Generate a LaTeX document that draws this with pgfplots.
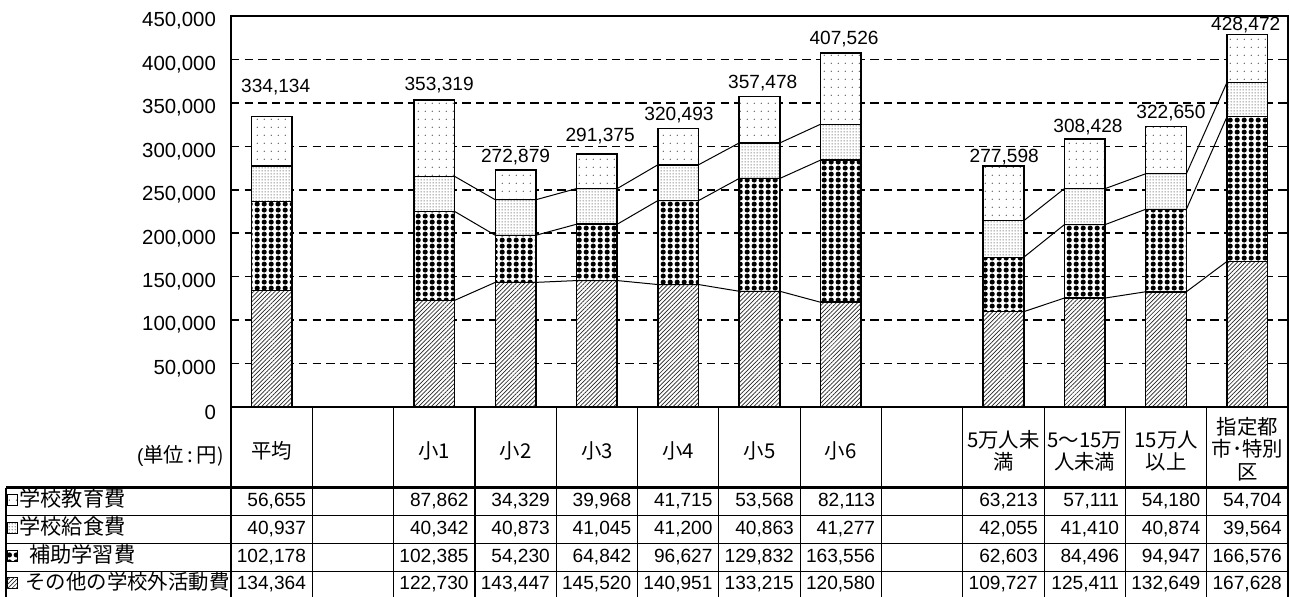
\documentclass[border=0pt]{standalone}
\usepackage{fontspec}
\setmainfont{Liberation Sans}
\newfontfamily\cjk{Noto Sans CJK JP}
\usepackage{pgfplots}
\usepackage{pgfplotstable}
\pgfplotsset{compat=1.18}
\usetikzlibrary{patterns,patterns.meta}

\tikzdeclarepattern{name=sparsedots, type=uncolored, bottom left={(0pt,0pt)}, top right={(3.35pt,3.85pt)}, tile size={(3.35pt,3.85pt)}, code={\fill (1.675pt,1.925pt) circle (0.33pt);}}
\tikzdeclarepattern{name=finedots, type=uncolored, bottom left={(0pt,0pt)}, top right={(1.3pt,1.3pt)}, tile size={(1.3pt,1.3pt)}, code={\fill (0.65pt,0.65pt) circle (0.3pt);}}
\tikzdeclarepattern{name=bigdots, type=uncolored, bottom left={(0pt,0pt)}, top right={(3.35pt,3.2pt)}, tile size={(3.35pt,3.2pt)}, code={\fill (1.675pt,1.6pt) circle (1.35pt);}}

\tikzset{
  pA/.style={fill=white, postaction={pattern color=black!75, pattern=sparsedots}},
  pB/.style={fill=white, postaction={pattern color=black!70, pattern=finedots}},
  pC/.style={fill=white, postaction={pattern color=black, pattern=bigdots}},
  pD/.style={fill=white, postaction={pattern color=black!85, pattern={Lines[angle=45,distance=1.5pt,line width=0.35pt]}}},
}

\newcommand\numfont{\fontsize{9.55pt}{11pt}\selectfont}
\newcommand\cjkfont{\cjk\fontsize{10.2pt}{12pt}\selectfont}
\newcommand\cjkrowfont{\cjk\fontsize{10.6pt}{12pt}\selectfont}

\pgfplotstableread{
k edu lunch supp other
0 56655 40937 102178 134364
2 87862 40342 102385 122730
3 34329 40873 54230 143447
4 39968 41045 64842 145520
5 41715 41200 96627 140951
6 53568 40863 129832 133215
7 82113 41277 163556 120580
9 63213 42055 62603 109727
10 57111 41410 84496 125411
11 54180 40874 94947 132649
12 54704 39564 166576 167628
}\data

\pgfkeys{/pgf/number format/.cd, fixed, precision=0, 1000 sep={,}, assume math mode=true}

\begin{document}
\begin{tikzpicture}
\useasboundingbox (0,0) rectangle (645pt,-298pt);
\begin{axis}[
  at={(115.5pt,-203.5pt)}, anchor=south west,
  scale only axis, width=528.5pt, height=195.5pt,
  xmin=0, xmax=13, ymin=0, ymax=450000,
  enlargelimits=false,
  ybar stacked, bar width=0.5,
  xtick=\empty,
  ytick={0,50000,100000,150000,200000,250000,300000,350000,400000,450000},
  scaled y ticks=false,
  yticklabel style={/pgf/number format/fixed, /pgf/number format/precision=0,
    /pgf/number format/1000 sep={,}, /pgf/number format/assume math mode=true,
    font=\fontsize{10.2pt}{12pt}\selectfont, xshift=-4pt, yshift=-2.5pt},
  ymajorgrids,
  major grid style={black, line width=0.8pt, dash pattern=on 4.2pt off 2.6pt},
  axis line style={line width=0.8pt},
  major tick length=0pt,
  every axis plot/.append style={draw=black, line width=0.75pt},
]
\addplot[pD] table[x expr=\thisrow{k}+0.5, y=other]{\data};
\addplot[pC] table[x expr=\thisrow{k}+0.5, y=supp]{\data};
\addplot[pB] table[x expr=\thisrow{k}+0.5, y=lunch]{\data};
\addplot[pA] table[x expr=\thisrow{k}+0.5, y=edu]{\data};
\foreach \xx/\yy/\tt in {0.55/368286/334{,}134, 2.56/370588/353{,}319, 3.5/287724/272{,}879,
  4.54/311893/291{,}375, 5.51/336061/320{,}493, 6.54/372890/357{,}478, 7.54/423529/407{,}526,
  9.51/287724/277{,}598, 10.54/322251/308{,}428, 11.56/338363/322{,}650, 12.48/439642/428{,}472}{
  \edef\temp{\noexpand\node[font=\noexpand\numfont] at (axis cs:\xx,\yy) {\tt};}\temp
}
\end{axis}

\begin{axis}[
  at={(115.5pt,-203.5pt)}, anchor=south west,
  scale only axis, width=528.5pt, height=195.5pt,
  xmin=0, xmax=13, ymin=0, ymax=450000,
  hide axis,
]
\addplot[black, line width=0.5pt, mark=none] coordinates {(2.75,122730)(3.25,143447)(3.75,143447)(4.25,145520)(4.75,145520)(5.25,140951)(5.75,140951)(6.25,133215)(6.75,133215)(7.25,120580)};
\addplot[black, line width=0.5pt, mark=none] coordinates {(2.75,225115)(3.25,197677)(3.75,197677)(4.25,210362)(4.75,210362)(5.25,237578)(5.75,237578)(6.25,263047)(6.75,263047)(7.25,284136)};
\addplot[black, line width=0.5pt, mark=none] coordinates {(2.75,265457)(3.25,238550)(3.75,238550)(4.25,251407)(4.75,251407)(5.25,278778)(5.75,278778)(6.25,303910)(6.75,303910)(7.25,325413)};
\addplot[black, line width=0.5pt, mark=none] coordinates {(9.75,109727)(10.25,125411)(10.75,125411)(11.25,132649)(11.75,132649)(12.25,167628)};
\addplot[black, line width=0.5pt, mark=none] coordinates {(9.75,172330)(10.25,209907)(10.75,209907)(11.25,227596)(11.75,227596)(12.25,334204)};
\addplot[black, line width=0.5pt, mark=none] coordinates {(9.75,214385)(10.25,251317)(10.75,251317)(11.25,268470)(11.75,268470)(12.25,373768)};
\end{axis}

\begin{scope}[x=0.5pt, y=-0.5pt]
\foreach \c in {0,...,13} {
  \draw[line width=0.6pt] ({231+\c*81.31},407) -- ({231+\c*81.31},600);
}
\draw[line width=0.6pt] (6,487.5) -- (6,600);
\draw[line width=1.5pt] (6,487.5) -- (1288,487.5);
\foreach \y in {515.5,543.5,571.5} \draw[line width=0.6pt] (6,\y) -- (1288,\y);
% header
\node[anchor=base east, inner sep=0pt] at (224,462) {\numfont(\cjkfont 単位\,:\,円\numfont)};
\foreach \c/\t in {0/平均, 2/小1, 3/小2, 4/小3, 5/小4, 6/小5, 7/小6} {
  \node[anchor=base, font=\cjkfont, inner sep=0pt] at ({231+(\c+0.5)*81.31},458.5) {\t};
}
\foreach \c/\ta/\tb in {9/5万人未/満, 10/5～15万/人未満, 11/15万人/以上} {
  \node[anchor=base, font=\cjkfont, inner sep=0pt] at ({231+(\c+0.5)*81.31},447) {\ta};
  \node[anchor=base, font=\cjkfont, inner sep=0pt] at ({231+(\c+0.5)*81.31},469.5) {\tb};
}
\node[anchor=base, font=\cjkfont, inner sep=0pt] at ({231+12.5*81.31},434) {指定都};
\node[anchor=base, font=\cjkfont, inner sep=0pt] at ({231+12.5*81.31},456.5) {市･特別};
\node[anchor=base, font=\cjkfont, inner sep=0pt] at ({231+12.5*81.31},479.5) {区};
% row labels with keys
\draw[line width=0.5pt, pA] (7,494.5) rectangle (17,505.5);
\node[anchor=base west, font=\cjkrowfont, inner sep=0pt] at (19,506.5) {学校教育費};
\draw[line width=0.5pt, pB] (7,522) rectangle (17,533);
\node[anchor=base west, font=\cjkrowfont, inner sep=0pt] at (19,534) {学校給食費};
\draw[line width=0.5pt, pC] (7,550) rectangle (17,561);
\node[anchor=base west, font=\cjkrowfont, inner sep=0pt] at (29,562) {補助学習費};
\draw[line width=0.5pt, pD] (7,577.5) rectangle (17,588.5);
\node[anchor=base west, font=\cjkfont, inner sep=0pt] at (25,589.5) {その他の学校外活動費};
% values
\pgfplotstablegetrowsof{\data}
\pgfmathtruncatemacro\N{\pgfplotsretval-1}
\foreach \r in {0,...,\N} {
  \pgfplotstablegetelem{\r}{k}\of\data
  \let\kk\pgfplotsretval
  \foreach \col/\yb in {edu/506.5, lunch/534, supp/562, other/589.5} {
    \pgfplotstablegetelem{\r}{\col}\of\data
    \let\vv\pgfplotsretval
    \node[anchor=base east, inner sep=0pt, font=\numfont] at ({231+(\kk+1)*81.31-6},\yb) {\pgfmathprintnumber{\vv}};
  }
}
\end{scope}
\end{tikzpicture}
\end{document}
